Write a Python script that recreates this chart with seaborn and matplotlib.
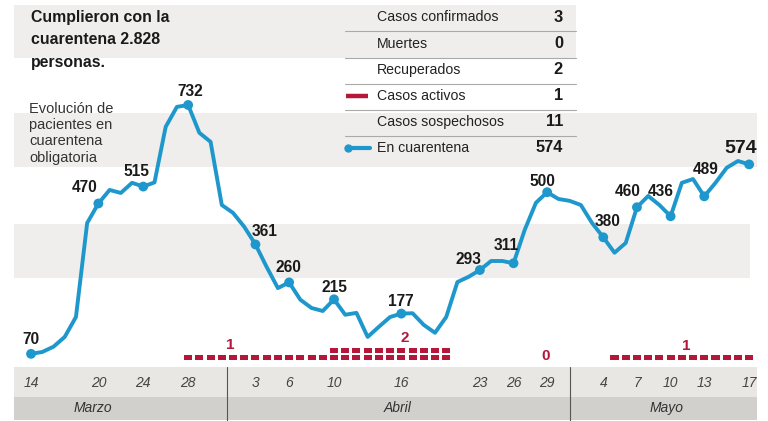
import numpy as np
import pandas as pd
import matplotlib.pyplot as plt
import seaborn as sns

# daily patients in mandatory quarantine, 14 Mar - 17 May
quarantine = [70, 75, 89, 115, 168, 418, 470, 506, 498, 525,
              515, 526, 674, 727, 732, 658, 634, 466, 445, 408,
              361, 301, 245, 260, 214, 192, 184, 215, 174, 179,
              115, 142, 168, 177, 178, 147, 126, 168, 261, 275,
              293, 317, 317, 311, 400, 472, 500, 482, 477, 466,
              418, 380, 339, 365, 460, 490, 466, 436, 525, 535,
              489, 525, 565, 583, 574]
active = [0] * 14 + [1] * 13 + [2] * 11 + [0] * 14 + [1] * 13

tick_days = [0, 6, 10, 14, 20, 23, 27, 33, 40, 43, 46, 51, 54, 57, 60, 64]
tick_labels = ['14', '20', '24', '28', '3', '6', '10', '16', '23', '26', '29',
               '4', '7', '10', '13', '17']
months = ['Marzo', 'Abril', 'Mayo']
month_centers = [5.5, 32.7, 56.6]
month_splits = [17.5, 48.0]

table_labels = ['Casos confirmados', 'Muertes', 'Recuperados', 'Casos activos',
                'Casos sospechosos', 'En cuarentena']
table_values = ['3', '0', '2', '1', '11', '574']

BLUE = '#1e98cc'
RED = '#b5173b'
BAND = '#efeeec'

days = np.arange(len(quarantine))
df = pd.DataFrame({'day': days, 'quarantine': quarantine, 'active': active})

sns.set_theme(style='white')
plt.rcParams['font.family'] = ['Liberation Sans', 'DejaVu Sans']

fig = plt.figure(figsize=(7.68, 4.21), dpi=100)
ax = fig.add_axes([14 / 768, 54 / 421, 743 / 768, 362 / 421])
ax.set_xlim(-1.52, 64.7)
ax.set_ylim(35, 998)
ax.axis('off')

# background bands
ax.axhspan(857, 998, xmax=0.756, color=BAND, zorder=0, lw=0)
ax.axhspan(567, 711, color=BAND, zorder=0, lw=0)
ax.axhspan(272, 416, xmax=0.99, color=BAND, zorder=0, lw=0)

sns.lineplot(data=df, x='day', y='quarantine', ax=ax, color=BLUE, lw=2.8, zorder=3)
marks = df[df['day'].isin(tick_days)]
sns.scatterplot(data=marks, x='day', y='quarantine', ax=ax, color=BLUE, s=50,
                edgecolor='none', zorder=4)

offsets = {0: (0, 14), 6: (-14, 16), 10: (-7, 15), 14: (2, 13), 20: (9, 13),
           23: (-1, 15), 27: (0, 12), 33: (-1, 12), 40: (-11, 11), 43: (-7, 18),
           46: (-5, 11), 51: (4, 16), 54: (-9, 16), 57: (-10, 25), 60: (1, 27),
           64: (-8, 16)}
for d, v in zip(marks['day'], marks['quarantine']):
    dx, dy = offsets[d]
    big = d == 64
    ax.annotate(str(v), (d, v), xytext=(dx * 0.72, dy * 0.72), textcoords='offset points',
                ha='center', va='center', fontsize=14 if big else 11.2,
                fontweight='bold', color='#1a1a1a', zorder=5)

# active cases as stacked blocks
for k in (1, 2):
    sub = df[df['active'] >= k]
    ax.bar(sub['day'], 13.3, bottom=52.8 + (k - 1) * 18.6, width=0.72, color=RED,
           lw=0, zorder=2)

# bottom date band
bx = fig.add_axes([14 / 768, 0, 743 / 768, 54 / 421], sharex=ax)
bx.set_ylim(0, 1)
bx.axis('off')
bx.axhspan(0.019, 0.444, color='#d2d0cd', lw=0)
bx.axhspan(0.444, 1.0, color='#e9e7e4', lw=0)
for s in month_splits:
    bx.axvline(s, color='#555555', lw=0.8)
for d, t in zip(tick_days, tick_labels):
    bx.text(d, 0.70, t, ha='center', va='center', fontsize=10, style='italic', color='#444444')
for c, m in zip(month_centers, months):
    bx.text(c, 0.24, m, ha='center', va='center', fontsize=10, style='italic', color='#333333')

# overlay in pixel coordinates for texts and table
ov = fig.add_axes([0, 0, 1, 1])
ov.set_xlim(0, 768)
ov.set_ylim(421, 0)
ov.axis('off')

ov.text(31, 10, 'Cumplieron con la\ncuarentena 2.828\npersonas.', ha='left', va='top',
        fontsize=11.4, fontweight='bold', color='#1a1a1a', linespacing=1.62)
ov.text(29, 102, 'Evolución de\npacientes en\ncuarentena\nobligatoria', ha='left', va='top',
        fontsize=10.5, color='#333333', linespacing=1.2)

row_y = [17, 44, 70, 96, 122, 148]
for i, (lab, val) in enumerate(zip(table_labels, table_values)):
    y = row_y[i]
    ov.text(377, y, lab, ha='left', va='center', fontsize=10.2, color='#222222')
    ov.text(563, y, val, ha='right', va='center', fontsize=11.8, fontweight='bold',
            color='#1a1a1a')
    if i < len(row_y) - 1:
        ov.plot([345, 576], [y + 13.5, y + 13.5], color='#aaaaaa', lw=0.8)
ov.plot([346, 368], [96, 96], color=RED, lw=3.2, solid_capstyle='butt')
ov.plot([347, 370], [148, 148], color=BLUE, lw=3)
ov.plot([348], [148], 'o', color=BLUE, ms=5)

# active case labels
seg_vals = [active[17], active[33], active[45], active[58]]
seg_pos = [(230, 345), (405, 338), (546, 356), (686, 346)]
for v, (x, y) in zip(seg_vals, seg_pos):
    ov.text(x, y, str(v), ha='center', va='center', fontsize=11, fontweight='bold', color=RED)

fig.savefig('out.png', dpi=100)
